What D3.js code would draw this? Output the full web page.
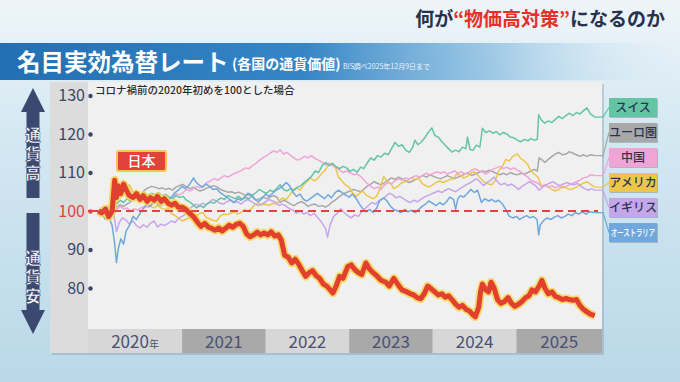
<!DOCTYPE html>
<html>
<head>
<meta charset="utf-8">
<script src="https://cdn.jsdelivr.net/npm/d3@7"></script>
<style>
  body { margin: 0; background: #cfe4ef; }
  text { font-family: "Noto Sans CJK JP", "Noto Sans", sans-serif; }
</style>
</head>
<body>
<div id="chart"></div>
<script>
// --- data (2020-01 = 100) ---
const japan = [["2020-01-01",100],["2020-01-15",99.5],["2020-02-01",100.5],["2020-02-15",98.5],["2020-03-01",100],["2020-03-08",105],["2020-03-12",108],["2020-03-20",103.5],["2020-03-28",106.5],["2020-04-08",104.5],["2020-04-20",107],["2020-05-01",105.5],["2020-05-15",104],["2020-06-01",103.5],["2020-06-15",104.5],["2020-07-01",103],["2020-07-15",104],["2020-08-01",102.5],["2020-08-15",103.5],["2020-09-01",102.8],["2020-09-15",103.8],["2020-10-01",102.5],["2020-10-15",103.2],["2020-11-01",102],["2020-11-15",101.5],["2020-12-01",102],["2020-12-15",101],["2021-01-01",101],["2021-01-15",100.5],["2021-02-01",99.5],["2021-02-20",98.5],["2021-03-10",97],["2021-03-25",96],["2021-04-10",96.8],["2021-04-25",95.8],["2021-05-10",95.5],["2021-05-25",95],["2021-06-10",95.6],["2021-06-25",94.8],["2021-07-10",95.5],["2021-07-25",96.3],["2021-08-10",95.8],["2021-08-25",96.5],["2021-09-10",96.8],["2021-09-25",96],["2021-10-10",94],["2021-10-25",93.3],["2021-11-10",93.8],["2021-11-25",94.5],["2021-12-10",93.8],["2021-12-25",94.3],["2022-01-10",93.8],["2022-01-25",94.6],["2022-02-10",93.5],["2022-02-25",93.8],["2022-03-10",92.5],["2022-03-25",88.5],["2022-04-10",88],["2022-04-25",86.5],["2022-05-10",87.5],["2022-05-25",86.2],["2022-06-10",84.5],["2022-06-25",83],["2022-07-10",84],["2022-07-25",84.5],["2022-08-10",83.2],["2022-08-25",82.5],["2022-09-10",81],["2022-09-25",80.5],["2022-10-10",79.5],["2022-10-22",78.7],["2022-11-05",80.5],["2022-11-20",83],["2022-12-05",82.5],["2022-12-25",85.5],["2023-01-10",86],["2023-01-25",84.8],["2023-02-10",84],["2023-02-25",83.5],["2023-03-15",86.5],["2023-03-30",85],["2023-04-15",84],["2023-05-01",83.2],["2023-05-20",82],["2023-06-10",81.5],["2023-06-25",80.5],["2023-07-15",82.5],["2023-08-01",81],["2023-08-20",79.5],["2023-09-10",79],["2023-09-25",78.5],["2023-10-10",78.2],["2023-10-25",77.5],["2023-11-10",77.2],["2023-11-25",78.5],["2023-12-10",80.5],["2023-12-25",79.8],["2024-01-10",79],["2024-01-25",78.2],["2024-02-10",78.5],["2024-02-25",77.6],["2024-03-10",78],["2024-03-25",77],["2024-04-10",75.8],["2024-04-25",75],["2024-05-10",75.5],["2024-05-25",74.5],["2024-06-10",74],["2024-06-25",73],["2024-07-05",72.5],["2024-07-20",75],["2024-07-28",79],["2024-08-05",81],["2024-08-20",79.5],["2024-09-01",79],["2024-09-12",81.5],["2024-09-25",80],["2024-10-10",77],["2024-10-25",76],["2024-11-10",76.5],["2024-11-25",77.5],["2024-12-10",76],["2024-12-25",75.2],["2025-01-10",75.8],["2025-01-25",76.5],["2025-02-10",77.5],["2025-02-25",78],["2025-03-10",79.5],["2025-03-25",79],["2025-04-10",80.5],["2025-04-22",82],["2025-05-05",80],["2025-05-20",78.5],["2025-06-05",79],["2025-06-20",77.8],["2025-07-05",77.5],["2025-07-20",77],["2025-08-05",77.3],["2025-08-20",77],["2025-09-05",76.8],["2025-09-20",77],["2025-10-05",75.5],["2025-10-20",74.5],["2025-11-05",73.8],["2025-11-20",73.2],["2025-12-09",72.8]];

const swiss = [["2020-01-01",100],["2020-01-20",100.8],["2020-02-05",100.3],["2020-02-25",101.8],["2020-03-10",103.5],["2020-03-20",101.8],["2020-04-05",102.8],["2020-04-20",102.2],["2020-05-05",103.2],["2020-05-20",102.6],["2020-06-05",103.6],["2020-06-20",103],["2020-07-05",104.2],["2020-07-20",104.8],["2020-08-05",104],["2020-08-20",104.6],["2020-09-05",104.2],["2020-09-20",104.8],["2020-10-05",103.9],["2020-10-20",104.3],["2020-11-05",103.6],["2020-11-20",103.2],["2020-12-05",104],["2020-12-20",103.5],["2021-01-05",103.8],["2021-01-20",102.8],["2021-02-05",102.3],["2021-02-20",101.5],["2021-03-05",100.8],["2021-03-20",101.4],["2021-04-05",100.9],["2021-04-20",101.8],["2021-05-05",102.3],["2021-05-20",102],["2021-06-05",102.8],["2021-06-20",103.4],["2021-07-05",103],["2021-07-20",104],["2021-08-05",103.6],["2021-08-20",103.2],["2021-09-05",103.8],["2021-09-20",103],["2021-10-05",103.5],["2021-10-20",103.2],["2021-11-05",104.2],["2021-11-20",104.8],["2021-12-05",105.6],["2021-12-20",105],["2022-01-05",104.6],["2022-01-20",105.4],["2022-02-05",105],["2022-02-20",106],["2022-03-05",106.8],["2022-03-20",105.6],["2022-04-05",105.2],["2022-04-20",105.8],["2022-05-05",105.4],["2022-05-20",106.2],["2022-06-05",106.6],["2022-06-20",107.5],["2022-07-05",108.2],["2022-07-20",109],["2022-08-05",110.4],["2022-08-20",110],["2022-09-05",111.8],["2022-09-20",112.6],["2022-10-05",111.8],["2022-10-20",112.4],["2022-11-05",111.5],["2022-11-20",111],["2022-12-05",111.6],["2022-12-20",111.2],["2023-01-05",110.3],["2023-01-20",110.8],["2023-02-05",110.1],["2023-02-20",111.4],["2023-03-05",111],["2023-03-20",112.4],["2023-04-05",113.8],["2023-04-20",113.2],["2023-05-05",114.4],["2023-05-20",114],["2023-06-05",115],["2023-06-20",114.6],["2023-07-05",116.2],["2023-07-20",117.8],["2023-08-05",116.8],["2023-08-20",117.2],["2023-09-05",115.8],["2023-09-20",115.2],["2023-10-05",116.5],["2023-10-15",118.4],["2023-10-28",117.2],["2023-11-10",117.8],["2023-11-25",118.8],["2023-12-10",120.2],["2023-12-28",121.6],["2024-01-10",119.6],["2024-01-25",119.2],["2024-02-10",118],["2024-02-25",117.1],["2024-03-10",116.2],["2024-03-25",115.3],["2024-04-10",115.8],["2024-04-25",115.4],["2024-05-10",116.6],["2024-05-25",116.2],["2024-06-01",119.2],["2024-06-12",116],["2024-06-25",115.8],["2024-07-10",117.1],["2024-07-25",116.6],["2024-08-05",121.5],["2024-08-20",120.4],["2024-09-05",120.8],["2024-09-20",120.2],["2024-10-05",120.6],["2024-10-20",119.8],["2024-11-05",120.4],["2024-11-20",120],["2024-12-05",119.2],["2024-12-20",119],["2025-01-05",118.4],["2025-01-20",118],["2025-02-05",118.6],["2025-02-20",118.2],["2025-03-05",118.8],["2025-03-20",118.4],["2025-04-02",118.6],["2025-04-08",125],["2025-04-20",123.6],["2025-05-05",122.8],["2025-05-20",123.4],["2025-06-05",123],["2025-06-20",123.8],["2025-07-05",124.6],["2025-07-20",124],["2025-08-05",124.8],["2025-08-20",125.4],["2025-09-05",124.8],["2025-09-20",125.6],["2025-10-05",125.2],["2025-10-20",126],["2025-11-05",126.8],["2025-11-20",125.2],["2025-12-09",124.4]];

const euro = [["2020-01-01",100],["2020-01-20",99.6],["2020-02-05",99.2],["2020-02-25",100.4],["2020-03-10",102.2],["2020-03-20",101],["2020-04-05",101.6],["2020-04-20",101.2],["2020-05-05",101.8],["2020-05-20",102.4],["2020-06-05",103.6],["2020-06-20",103.9],["2020-07-05",104.2],["2020-07-20",105.4],["2020-08-05",106],["2020-08-20",106.4],["2020-09-05",106.2],["2020-09-20",105.8],["2020-10-05",106],["2020-10-20",105.6],["2020-11-05",105.9],["2020-11-20",105.4],["2020-12-05",106.2],["2020-12-20",106.6],["2021-01-05",106.9],["2021-01-20",106.2],["2021-02-05",105.8],["2021-02-20",106.2],["2021-03-05",105.6],["2021-03-20",105.2],["2021-04-05",105.5],["2021-04-20",106],["2021-05-05",106.3],["2021-05-20",106.6],["2021-06-05",106.2],["2021-06-20",105.5],["2021-07-05",105.2],["2021-07-20",104.9],["2021-08-05",105],["2021-08-20",104.6],["2021-09-05",104.9],["2021-09-20",104.5],["2021-10-05",104],["2021-10-20",104.3],["2021-11-05",103.6],["2021-11-20",102.8],["2021-12-05",103.2],["2021-12-20",103.6],["2022-01-05",103.2],["2022-01-20",103.6],["2022-02-05",104],["2022-02-20",103.5],["2022-03-05",102.2],["2022-03-20",102.8],["2022-04-05",102.4],["2022-04-20",101.8],["2022-05-05",101.4],["2022-05-20",102],["2022-06-05",102.4],["2022-06-20",102],["2022-07-05",101.2],["2022-07-20",101.6],["2022-08-05",101.8],["2022-08-20",101.2],["2022-09-05",101.4],["2022-09-20",101],["2022-10-05",101.6],["2022-10-20",102.4],["2022-11-05",103],["2022-11-20",103.8],["2022-12-05",104.4],["2022-12-20",104.8],["2023-01-05",105.2],["2023-01-20",105.6],["2023-02-05",105.3],["2023-02-20",105],["2023-03-05",105.6],["2023-03-20",106.4],["2023-04-05",107],["2023-04-20",107.6],["2023-05-05",107.2],["2023-05-20",106.8],["2023-06-05",107.4],["2023-06-20",108],["2023-07-05",108.6],["2023-07-20",108.2],["2023-08-05",108.8],["2023-08-20",108.4],["2023-09-05",107.8],["2023-09-20",107.4],["2023-10-05",107.8],["2023-10-20",108.2],["2023-11-05",108.8],["2023-11-20",109.2],["2023-12-05",108.8],["2023-12-20",109.4],["2024-01-05",109],["2024-01-20",108.6],["2024-02-05",108.4],["2024-02-20",108.8],["2024-03-05",109.2],["2024-03-20",108.8],["2024-04-05",108.4],["2024-04-20",108.8],["2024-05-05",109.2],["2024-05-20",109.6],["2024-06-05",109.8],["2024-06-20",109.2],["2024-07-05",109.6],["2024-07-20",110],["2024-08-05",110.4],["2024-08-20",110.2],["2024-09-05",110.6],["2024-09-20",110.2],["2024-10-05",109.8],["2024-10-20",109.4],["2024-11-05",109.8],["2024-11-20",109.4],["2024-12-05",110],["2024-12-20",109.6],["2025-01-05",109.4],["2025-01-20",109.8],["2025-02-05",109.6],["2025-02-20",110],["2025-03-05",110.4],["2025-03-20",110.8],["2025-04-02",110.4],["2025-04-10",113.8],["2025-04-25",113.2],["2025-05-05",112.6],["2025-05-20",113.4],["2025-06-05",114.2],["2025-06-20",114.8],["2025-07-05",115.2],["2025-07-20",114.6],["2025-08-05",114.8],["2025-08-20",115.4],["2025-09-05",115],["2025-09-20",114.6],["2025-10-05",114.2],["2025-10-20",114.6],["2025-11-05",114.2],["2025-11-20",114.6],["2025-12-09",114.4]];

const china = [["2020-01-01",100],["2020-01-20",101],["2020-02-05",100.2],["2020-02-25",100.8],["2020-03-10",101.6],["2020-03-20",100.4],["2020-04-05",101.2],["2020-04-20",100.6],["2020-05-05",100.8],["2020-05-20",100],["2020-06-05",100.6],["2020-06-20",100.2],["2020-07-05",100.8],["2020-07-20",101.2],["2020-08-05",101],["2020-08-20",101.6],["2020-09-05",102.2],["2020-09-20",102],["2020-10-05",102.8],["2020-10-20",103.4],["2020-11-05",103.2],["2020-11-20",103.8],["2020-12-05",104.4],["2020-12-20",104.2],["2021-01-05",104.8],["2021-01-20",105.6],["2021-02-05",105.2],["2021-02-20",105.8],["2021-03-05",106.4],["2021-03-20",106],["2021-04-05",106.6],["2021-04-20",107.4],["2021-05-05",107.8],["2021-05-20",108.4],["2021-06-05",108],["2021-06-20",108.6],["2021-07-05",109.2],["2021-07-20",108.8],["2021-08-05",109.4],["2021-08-20",109.8],["2021-09-05",110.2],["2021-09-20",110.6],["2021-10-05",111.2],["2021-10-20",111],["2021-11-05",111.8],["2021-11-20",112.4],["2021-12-05",113.2],["2021-12-20",113.8],["2022-01-05",114.4],["2022-01-20",115],["2022-02-05",115.6],["2022-02-20",115.2],["2022-03-05",115.9],["2022-03-20",114.8],["2022-04-05",115.2],["2022-04-20",114.4],["2022-05-05",113.8],["2022-05-20",113.2],["2022-06-05",113.6],["2022-06-20",114.2],["2022-07-05",113.8],["2022-07-20",114.4],["2022-08-05",113.6],["2022-08-20",113.2],["2022-09-05",112.6],["2022-09-20",112],["2022-10-05",112.4],["2022-10-20",111.8],["2022-11-05",111.2],["2022-11-20",110.6],["2022-12-05",110],["2022-12-20",110.4],["2023-01-05",110],["2023-01-20",109.4],["2023-02-05",109.6],["2023-02-20",109],["2023-03-05",108.2],["2023-03-20",107.2],["2023-04-05",106.4],["2023-04-20",105.8],["2023-05-05",106.2],["2023-05-20",105.6],["2023-06-05",106.8],["2023-06-20",107.4],["2023-07-05",107],["2023-07-20",107.8],["2023-08-05",108.4],["2023-08-20",108],["2023-09-05",108.6],["2023-09-20",108.2],["2023-10-05",108.8],["2023-10-20",109.2],["2023-11-05",108.8],["2023-11-20",109.4],["2023-12-05",109.8],["2023-12-20",109.4],["2024-01-05",109.8],["2024-01-20",110.2],["2024-02-05",109.8],["2024-02-20",110.2],["2024-03-05",109.6],["2024-03-20",110],["2024-04-05",110.4],["2024-04-20",109.8],["2024-05-05",110.2],["2024-05-20",109.6],["2024-06-05",110],["2024-06-20",110.6],["2024-07-05",111],["2024-07-20",110.4],["2024-08-05",110.2],["2024-08-20",109.6],["2024-09-05",110.2],["2024-09-20",110.8],["2024-10-05",111.2],["2024-10-20",111.6],["2024-11-05",111],["2024-11-20",111.4],["2024-12-05",110.8],["2024-12-20",111.2],["2025-01-05",110.6],["2025-01-20",110.2],["2025-02-05",109.4],["2025-02-20",108.8],["2025-03-05",108],["2025-03-20",107.6],["2025-04-05",107.2],["2025-04-20",106.4],["2025-05-05",106.8],["2025-05-20",106.2],["2025-06-05",106.6],["2025-06-20",106],["2025-07-05",106.4],["2025-07-20",106],["2025-08-05",106.4],["2025-08-20",106.8],["2025-09-05",107.2],["2025-09-20",107.6],["2025-10-05",108],["2025-10-20",108.6],["2025-11-05",108.8],["2025-11-20",109.4],["2025-12-09",109.2]];

const usa = [["2020-01-01",100],["2020-01-20",100.6],["2020-02-05",100.2],["2020-02-25",101.4],["2020-03-10",103],["2020-03-20",108.8],["2020-04-01",106.4],["2020-04-15",107.2],["2020-05-01",106.2],["2020-05-15",106.8],["2020-06-01",104.8],["2020-06-15",104.2],["2020-07-01",104],["2020-07-15",102.8],["2020-08-01",101.6],["2020-08-15",101.2],["2020-09-01",100.8],["2020-09-15",101.4],["2020-10-01",100.8],["2020-10-15",100.4],["2020-11-01",100.6],["2020-11-15",99.4],["2020-12-01",98.8],["2020-12-15",98.2],["2021-01-01",97.4],["2021-01-15",97.8],["2021-02-01",98.2],["2021-02-15",97.6],["2021-03-01",98.6],["2021-03-15",99.2],["2021-04-01",99.6],["2021-04-15",98.4],["2021-05-01",98],["2021-05-15",97.6],["2021-06-01",97.4],["2021-06-15",98.6],["2021-07-01",99.2],["2021-07-15",99],["2021-08-01",99.4],["2021-08-15",99.8],["2021-09-01",99.2],["2021-09-15",99.6],["2021-10-01",100.4],["2021-10-15",100],["2021-11-01",100.6],["2021-11-15",101.8],["2021-12-01",102],["2021-12-15",101.6],["2022-01-01",101.8],["2022-01-15",101.4],["2022-02-01",102],["2022-02-15",101.8],["2022-03-01",102.6],["2022-03-15",103.4],["2022-04-01",103],["2022-04-15",104],["2022-05-01",105.4],["2022-05-15",106],["2022-06-01",105.4],["2022-06-15",106.8],["2022-07-01",107.6],["2022-07-15",108.6],["2022-08-01",107.8],["2022-08-15",108.4],["2022-09-01",109.6],["2022-09-15",110.4],["2022-10-01",111.8],["2022-10-15",112.2],["2022-11-01",111.4],["2022-11-15",108.8],["2022-12-01",107.8],["2022-12-15",106.8],["2023-01-01",106.2],["2023-01-15",104.8],["2023-02-01",103.8],["2023-02-15",104.6],["2023-03-01",105.2],["2023-03-15",104.2],["2023-04-01",103.6],["2023-04-15",103.2],["2023-05-01",103.8],["2023-05-15",105.8],["2023-06-01",109],["2023-06-15",107.8],["2023-07-01",107.2],["2023-07-15",105.8],["2023-08-01",106.4],["2023-08-15",107.2],["2023-09-01",107.6],["2023-09-15",108],["2023-10-01",108.6],["2023-10-15",108.2],["2023-11-01",108.6],["2023-11-15",107.2],["2023-12-01",106.6],["2023-12-15",106.2],["2024-01-01",106.8],["2024-01-15",107.4],["2024-02-01",107.8],["2024-02-15",107.4],["2024-03-01",107.8],["2024-03-15",108.2],["2024-04-01",108.4],["2024-04-15",109.6],["2024-05-01",109.2],["2024-05-15",108.6],["2024-06-01",109],["2024-06-15",109.8],["2024-07-01",110.2],["2024-07-15",109.4],["2024-08-01",108.2],["2024-08-15",107.4],["2024-09-01",107],["2024-09-15",106.8],["2024-10-01",108],["2024-10-15",110.4],["2024-11-01",111.6],["2024-11-15",113.4],["2024-12-01",113],["2024-12-15",114.2],["2025-01-05",114.8],["2025-01-20",113.6],["2025-02-05",113],["2025-02-20",112],["2025-03-05",110.4],["2025-03-20",109.6],["2025-04-05",108.8],["2025-04-20",106.4],["2025-05-05",106.8],["2025-05-20",106.2],["2025-06-05",105.6],["2025-06-20",105.2],["2025-07-05",105.6],["2025-07-20",106.4],["2025-08-05",106],["2025-08-20",105.6],["2025-09-05",105.8],["2025-09-20",106.2],["2025-10-05",106.8],["2025-10-20",107.2],["2025-11-05",107.6],["2025-11-20",107],["2025-12-09",106.2]];

const uk = [["2020-01-01",100],["2020-01-20",100.6],["2020-02-05",101.4],["2020-02-25",100.6],["2020-03-10",98.6],["2020-03-20",94.6],["2020-04-01",97],["2020-04-15",98.2],["2020-05-01",97.6],["2020-05-15",96.6],["2020-06-01",97.4],["2020-06-15",96.2],["2020-07-01",95.6],["2020-07-15",96.4],["2020-08-01",95.8],["2020-08-15",96.8],["2020-09-01",97.4],["2020-09-15",95.8],["2020-10-01",96.6],["2020-10-15",96.2],["2020-11-01",96.8],["2020-11-15",97.4],["2020-12-01",97],["2020-12-15",98],["2021-01-01",98.6],["2021-01-15",99.2],["2021-02-01",100.4],["2021-02-15",101.2],["2021-03-01",101.8],["2021-03-15",101.4],["2021-04-01",102],["2021-04-15",101.6],["2021-05-01",102.4],["2021-05-15",103],["2021-06-01",102.6],["2021-06-15",102],["2021-07-01",101.8],["2021-07-15",102.4],["2021-08-01",102.8],["2021-08-15",102.2],["2021-09-01",102.4],["2021-09-15",101.8],["2021-10-01",102.6],["2021-10-15",103],["2021-11-01",102.4],["2021-11-15",101.8],["2021-12-01",101.4],["2021-12-15",101.8],["2022-01-01",102.4],["2022-01-15",103],["2022-02-01",102.6],["2022-02-15",102.2],["2022-03-01",101.4],["2022-03-15",101.8],["2022-04-01",101.2],["2022-04-15",100.6],["2022-05-01",100.2],["2022-05-15",99.4],["2022-06-01",100],["2022-06-15",99.2],["2022-07-01",99.6],["2022-07-15",98.8],["2022-08-01",99.4],["2022-08-15",98.4],["2022-09-01",97.2],["2022-09-20",95.4],["2022-09-28",93.2],["2022-10-10",96.4],["2022-10-25",98.6],["2022-11-10",99.4],["2022-11-25",100.6],["2022-12-10",99.6],["2022-12-25",98.8],["2023-01-10",98.2],["2023-01-25",99],["2023-02-10",98.6],["2023-02-25",99.8],["2023-03-10",100.6],["2023-03-25",101.4],["2023-04-10",102.2],["2023-04-25",101.8],["2023-05-10",102.6],["2023-05-25",103],["2023-06-10",103.8],["2023-06-25",104.6],["2023-07-10",104.2],["2023-07-25",103.4],["2023-08-10",103.8],["2023-08-25",103.2],["2023-09-10",102.6],["2023-09-25",102.2],["2023-10-10",102.8],["2023-10-25",102.4],["2023-11-10",103],["2023-11-25",103.6],["2023-12-10",104],["2023-12-25",104.4],["2024-01-10",104.8],["2024-01-25",105.2],["2024-02-10",104.8],["2024-02-25",105.4],["2024-03-10",105.8],["2024-03-25",105.4],["2024-04-10",105],["2024-04-25",105.6],["2024-05-10",106.2],["2024-05-25",106.8],["2024-06-10",107.2],["2024-06-25",107.8],["2024-07-10",108.4],["2024-07-25",107.6],["2024-08-10",106.6],["2024-08-25",107.4],["2024-09-10",108],["2024-09-25",108.8],["2024-10-10",107.6],["2024-10-25",106.8],["2024-11-10",107.2],["2024-11-25",106.6],["2024-12-10",107],["2024-12-25",106.4],["2025-01-10",105.6],["2025-01-25",106.4],["2025-02-10",107],["2025-02-25",107.6],["2025-03-10",107.2],["2025-03-25",106.6],["2025-04-10",105.4],["2025-04-25",106.2],["2025-05-10",106.8],["2025-05-25",107.2],["2025-06-10",107.6],["2025-06-25",107],["2025-07-10",106.6],["2025-07-25",107],["2025-08-10",107.4],["2025-08-25",107],["2025-09-10",106.8],["2025-09-25",107.2],["2025-10-10",106.4],["2025-10-25",105.8],["2025-11-10",105.4],["2025-11-25",105.8],["2025-12-09",105.4]];

const australia = [["2020-01-01",100],["2020-01-15",99.4],["2020-02-01",97.8],["2020-02-15",98.6],["2020-03-01",96.2],["2020-03-12",91.6],["2020-03-20",86.6],["2020-03-28",90.2],["2020-04-08",92.8],["2020-04-20",91.4],["2020-05-01",94.8],["2020-05-15",96.2],["2020-06-01",98.6],["2020-06-15",97.8],["2020-07-01",99.4],["2020-07-15",100.6],["2020-08-01",101.8],["2020-08-15",101.2],["2020-09-01",102.6],["2020-09-15",101.8],["2020-10-01",101.4],["2020-10-15",102.2],["2020-11-01",102.8],["2020-11-15",103.6],["2020-12-01",104.8],["2020-12-15",105.4],["2021-01-01",106.4],["2021-01-15",105.8],["2021-02-01",106.8],["2021-02-20",108.6],["2021-03-01",107.6],["2021-03-15",106.8],["2021-04-01",106.2],["2021-04-15",107],["2021-05-01",106.4],["2021-05-15",105.6],["2021-06-01",105.8],["2021-06-15",104.8],["2021-07-01",104.2],["2021-07-15",103.6],["2021-08-01",102.8],["2021-08-15",102.2],["2021-09-01",103.2],["2021-09-15",102.8],["2021-10-01",103.6],["2021-10-15",104.6],["2021-11-01",104.2],["2021-11-15",103],["2021-12-01",102.4],["2021-12-15",103.2],["2022-01-01",104.4],["2022-01-15",103.8],["2022-02-01",104.6],["2022-02-15",105.4],["2022-03-01",105.8],["2022-03-15",106.4],["2022-04-01",107.4],["2022-04-15",106.6],["2022-05-01",104.8],["2022-05-15",103.8],["2022-06-01",104.4],["2022-06-15",103],["2022-07-01",102.6],["2022-07-15",103.2],["2022-08-01",104],["2022-08-15",104.6],["2022-09-01",103.8],["2022-09-15",103.2],["2022-10-01",104.2],["2022-10-15",103.4],["2022-11-01",104.8],["2022-11-15",105.4],["2022-12-01",104.8],["2022-12-15",104.2],["2023-01-01",103.6],["2023-01-15",104.4],["2023-02-01",103.2],["2023-02-15",101.8],["2023-03-01",100.6],["2023-03-15",99.8],["2023-04-01",100.4],["2023-04-15",99.6],["2023-05-01",100.8],["2023-05-15",102.8],["2023-06-01",103.4],["2023-06-15",102.6],["2023-07-01",101.2],["2023-07-15",100.4],["2023-08-01",100],["2023-08-15",99.6],["2023-09-01",100.4],["2023-09-15",99.8],["2023-10-01",100.2],["2023-10-15",99.6],["2023-11-01",100.4],["2023-11-15",101.2],["2023-12-01",101.8],["2023-12-15",102.6],["2024-01-01",102],["2024-01-15",101.4],["2024-02-01",102.2],["2024-02-15",101.6],["2024-03-01",102.4],["2024-03-15",103.6],["2024-04-01",103],["2024-04-10",100.4],["2024-04-20",103.2],["2024-05-01",104],["2024-05-15",103.6],["2024-06-01",104.6],["2024-06-15",105.6],["2024-07-01",104.8],["2024-07-15",105.4],["2024-08-01",102.2],["2024-08-15",103.2],["2024-09-01",102.6],["2024-09-15",103],["2024-10-01",102.4],["2024-10-15",102.8],["2024-11-01",101.8],["2024-11-15",100.4],["2024-12-01",98.6],["2024-12-15",98.2],["2025-01-01",98.6],["2025-01-15",97.8],["2025-02-01",98.4],["2025-02-15",98.8],["2025-03-01",98.2],["2025-03-15",98.6],["2025-04-01",97.8],["2025-04-08",93.8],["2025-04-15",96.4],["2025-05-01",97.6],["2025-05-15",98.2],["2025-06-01",97.8],["2025-06-15",98.4],["2025-07-01",98.8],["2025-07-15",98.2],["2025-08-01",98.6],["2025-08-15",99.2],["2025-09-01",98.8],["2025-09-15",99.6],["2025-10-01",99.2],["2025-10-15",99.8],["2025-11-01",99.2],["2025-11-15",99.8],["2025-12-09",99.6]];

const legendNames = ["スイス", "ユーロ圏", "中国", "アメリカ", "イギリス", "オーストラリア"];
const legendColors = ["#63c5a4", "#a8a8a8", "#f0a4d6", "#ecc64c", "#c6a6ea", "#70a7dc"];
const yTicks = [80, 90, 100, 110, 120, 130];
const years = [2020, 2021, 2022, 2023, 2024, 2025];

// --- drawing ---
const W = 680, H = 382;
const parse = d3.timeParse("%Y-%m-%d");
const otherSeries = [swiss, euro, china, usa, uk, australia];

const svg = d3.select("#chart").append("svg").attr("width", W).attr("height", H);
const defs = svg.append("defs");

let bg = defs.append("linearGradient").attr("id", "bg").attr("x1", 0).attr("y1", 0).attr("x2", 0).attr("y2", 1);
bg.append("stop").attr("offset", "0%").attr("stop-color", "#eef5f9");
bg.append("stop").attr("offset", "35%").attr("stop-color", "#d4e8f2");
bg.append("stop").attr("offset", "100%").attr("stop-color", "#bad8e8");

let band = defs.append("linearGradient").attr("id", "band");
band.append("stop").attr("offset", "0%").attr("stop-color", "#226fb3");
band.append("stop").attr("offset", "45%").attr("stop-color", "#3686c6");
band.append("stop").attr("offset", "72%").attr("stop-color", "#86bbe0").attr("stop-opacity", 0.75);
band.append("stop").attr("offset", "100%").attr("stop-color", "#d6eaf5").attr("stop-opacity", 0);

svg.append("rect").attr("width", W).attr("height", H).attr("fill", "url(#bg)");

// title band
svg.append("rect").attr("x", 0).attr("y", 43).attr("width", W).attr("height", 37).attr("fill", "url(#band)");
svg.append("text").attr("x", 17).attr("y", 71).attr("fill", "#fff")
  .attr("font-size", 23.5).attr("font-weight", 700).text("名目実効為替レート");
svg.append("text").attr("x", 232).attr("y", 69).attr("fill", "#fff")
  .attr("font-size", 14).attr("font-weight", 700).text("(各国の通貨価値)");
svg.append("text").attr("x", 343).attr("y", 69).attr("fill", "#eaf3fa")
  .attr("font-size", 7).text("BIS調べ2025年12月9日まで");

// headline top right
const head = svg.append("text").attr("x", 665).attr("y", 26).attr("text-anchor", "end")
  .attr("font-size", 19).attr("font-weight", 700).attr("fill", "#26324d");
head.append("tspan").text("何が");
head.append("tspan").attr("fill", "#e2322b").text("“物価高対策”");
head.append("tspan").text("になるのか");

// panel
svg.append("rect").attr("x", 52).attr("y", 84).attr("width", 552).attr("height", 271)
  .attr("fill", "#7a8ea0").attr("opacity", 0.35);
svg.append("rect").attr("x", 50).attr("y", 82).attr("width", 552).attr("height", 271).attr("fill", "#dcdcdc");
svg.append("rect").attr("x", 88).attr("y", 82).attr("width", 514).attr("height", 247).attr("fill", "#f0f0f0");

const x = d3.scaleTime().domain([parse("2020-01-01"), parse("2026-01-01")]).range([98.4, 600]);
const y = d3.scaleLinear().domain([80, 130]).range([288, 95.5]);

// year band
const yearG = svg.append("g");
years.forEach((yr, i) => {
  const x0 = i === 0 ? 88 : x(parse(yr + "-01-01"));
  const x1 = i === years.length - 1 ? 602 : x(parse((yr + 1) + "-01-01"));
  yearG.append("rect").attr("x", x0).attr("y", 329).attr("width", x1 - x0).attr("height", 24)
    .attr("fill", i % 2 === 0 ? "#d7d7d7" : "#a9a9a9");
  const t = yearG.append("text").attr("x", (x0 + x1) / 2).attr("y", 348).attr("text-anchor", "middle")
    .attr("font-size", 17).attr("fill", "#4a5174").text(yr);
  if (i === 0) t.append("tspan").attr("font-size", 10).text("年");
});

// y axis
const yAxis = svg.append("g").attr("transform", "translate(88,0)")
  .call(d3.axisLeft(y).tickValues(yTicks).tickSize(0).tickPadding(3));
yAxis.select(".domain").remove();
yAxis.selectAll("text").attr("font-size", 16).attr("font-family", "'Noto Sans CJK JP', sans-serif")
  .attr("fill", d => d === 100 ? "#e2453f" : "#3e4567");
yAxis.selectAll(".tick").append("circle").attr("cx", 2.5).attr("r", 2.2)
  .attr("fill", d => d === 100 ? "#e2453f" : "#3e4567");

// subtitle
svg.append("text").attr("x", 95).attr("y", 94).attr("font-size", 10.5).attr("font-weight", 500).attr("fill", "#2b2b2b")
  .text("コロナ禍前の2020年初めを100とした場合");

// lines
svg.append("clipPath").attr("id", "plotclip").append("rect")
  .attr("x", 88).attr("y", 82).attr("width", 514).attr("height", 247);
const plot = svg.append("g").attr("clip-path", "url(#plotclip)");
const line = d3.line().x(d => x(parse(d[0]))).y(d => y(d[1]));

const drawOrder = [1, 3, 2, 4, 0, 5];
drawOrder.forEach(i => {
  plot.append("path").datum(otherSeries[i]).attr("d", line).attr("fill", "none")
    .attr("stroke", legendColors[i]).attr("stroke-width", 1.5).attr("stroke-linejoin", "round");
});

// 100 baseline
svg.append("line").attr("x1", 88).attr("x2", 98).attr("y1", y(100)).attr("y2", y(100))
  .attr("stroke", "#e2453f").attr("stroke-width", 2);
svg.append("line").attr("x1", 100).attr("x2", 598).attr("y1", y(100)).attr("y2", y(100))
  .attr("stroke", "#e2453f").attr("stroke-width", 2).attr("stroke-dasharray", "8,5");

// Japan
plot.append("path").datum(japan).attr("d", line).attr("fill", "none")
  .attr("stroke", "#f7d553").attr("stroke-width", 8.5).attr("stroke-linejoin", "round").attr("opacity", 0.85);
plot.append("path").datum(japan).attr("d", line).attr("fill", "none")
  .attr("stroke", "#e2402e").attr("stroke-width", 5).attr("stroke-linejoin", "round");

// 日本 label
svg.append("rect").attr("x", 117).attr("y", 151).attr("width", 49).attr("height", 20).attr("rx", 2)
  .attr("fill", "#e0433c").attr("stroke", "#f3c64e").attr("stroke-width", 2);
svg.append("text").attr("x", 141.5).attr("y", 166).attr("text-anchor", "middle")
  .attr("font-size", 14).attr("fill", "#fff").attr("font-weight", 500).text("日本");

// legend with connectors
const legend = svg.append("g");
otherSeries.forEach((s, i) => {
  const last = s[s.length - 1];
  const by = 98 + i * 25;
  legend.append("path")
    .attr("d", `M${x(parse(last[0]))},${y(last[1])} L603,${y(last[1])} L609,${by + 9.5}`)
    .attr("fill", "none").attr("stroke", legendColors[i]).attr("stroke-width", 1.2);
  legend.append("rect").attr("x", 610).attr("y", by + 1).attr("width", 48).attr("height", 19)
    .attr("fill", "#55606e").attr("opacity", 0.35);
  legend.append("rect").attr("x", 609).attr("y", by).attr("width", 48).attr("height", 19)
    .attr("fill", legendColors[i]);
  const t = legend.append("text").attr("x", 633).attr("y", by + (i === 5 ? 13 : 14)).attr("text-anchor", "middle")
    .attr("font-size", i === 5 ? 9.5 : 12).attr("font-weight", 500)
    .attr("fill", i === 5 ? "#fff" : "#2c3550").text(legendNames[i]);
  if (i === 5) t.attr("textLength", 44).attr("lengthAdjust", "spacingAndGlyphs");
});

// left arrows
const navy = "#3b4870";
const arrows = svg.append("g");
arrows.append("path").attr("d", "M33,88 L45,112 L39.5,112 L39.5,198 L26.5,198 L26.5,112 L21,112 Z").attr("fill", navy);
arrows.append("path").attr("d", "M26.5,213 L39.5,213 L39.5,310 L45,310 L33,334 L21,310 L26.5,310 Z").attr("fill", navy);
[["通貨高", 155], ["通貨安", 278]].forEach(([word, cy]) => {
  arrows.append("text").attr("x", 33).attr("y", cy).attr("text-anchor", "middle")
    .style("writing-mode", "vertical-rl").attr("letter-spacing", 3)
    .attr("font-size", 16).attr("font-weight", 700).attr("fill", "#fff")
    .attr("stroke", navy).attr("stroke-width", 0.5).text(word);
});
</script>
</body>
</html>
